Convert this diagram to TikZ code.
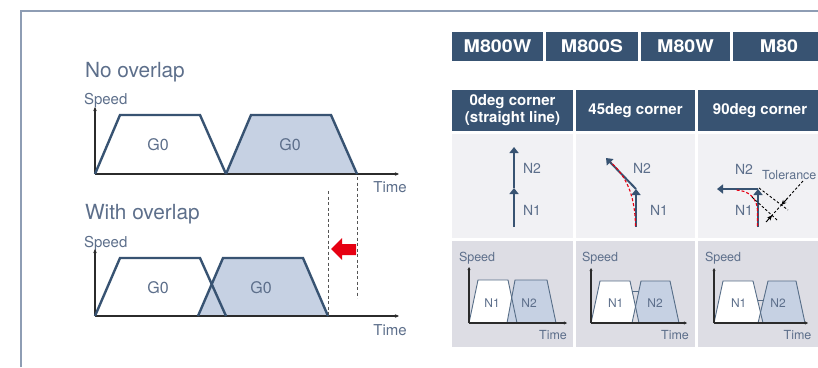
\documentclass[tikz,border=0pt]{standalone}
\usepackage{fontspec}
\setmainfont{TeX Gyre Heros}
\newfontfamily\hdrfont[FakeStretch=1.12]{TeX Gyre Heros}
\usetikzlibrary{arrows.meta}
\definecolor{navy}{HTML}{385372}
\definecolor{tcol}{HTML}{5D6F8B}
\definecolor{lblue}{HTML}{C6D1E3}
\definecolor{cellA}{HTML}{F1F1F4}
\definecolor{cellB}{HTML}{DDDDE4}
\definecolor{framec}{HTML}{8E9DB4}
\definecolor{redc}{HTML}{E60012}
\definecolor{axisc}{HTML}{2B2B2B}
\definecolor{dashc}{HTML}{555555}
\tikzset{
  txt/.style={text=tcol, inner sep=0pt, outer sep=0pt},
  big/.style={txt, font=\fontsize{20.8}{23}\selectfont},
  mid/.style={txt, font=\fontsize{15}{18}\selectfont},
  sml/.style={txt, font=\fontsize{12.5}{15}\selectfont},
  lbl/.style={txt, font=\fontsize{14}{16}\selectfont},
  hdrA/.style={text=white, inner sep=0pt, font=\hdrfont\bfseries\fontsize{17.5}{20}\selectfont},
  hdrB/.style={text=white, inner sep=0pt, align=center, font=\bfseries\fontsize{15}{17}\selectfont},
  axisline/.style={draw=axisc, line width=1.2pt, -{Stealth[length=4pt,width=3.5pt]}},
  saxis/.style={draw=axisc, line width=1.3pt, -{Stealth[length=3pt,width=3pt]}},
  trap/.style={draw=navy, line width=2.4pt, line join=miter},
  strap/.style={draw=navy!85!white, line width=0.9pt, line join=miter},
  vdash/.style={draw=dashc, line width=1pt, dash pattern=on 3pt off 2.5pt},
  narrow/.style={draw=navy, line width=2pt, -{Triangle[length=6pt,width=9pt]}},
  reddash/.style={draw=redc, line width=1.1pt, dash pattern=on 3pt off 2pt},
  toldash/.style={draw=black, line width=0.9pt, dash pattern=on 2.5pt off 2pt},
  tolarrow/.style={draw=black, line width=0.9pt, -{Stealth[length=5pt,width=4.5pt]}},
}
\begin{document}
\begin{tikzpicture}[x=1pt,y=-1pt]
\useasboundingbox (0,0) rectangle (818,367);
\fill[white] (0,0) rectangle (818,367);
% frame
\draw[framec, line width=1.2pt] (21,367) -- (21,11) -- (818,11);

% ---------- left: No overlap ----------
\node[big, anchor=base west] (t1) at (85,77.5) {No overlap};
\node[mid, anchor=base west] (sp1) at (84,104) {Speed};
\coordinate (o1) at (95,174);
\coordinate (y1) at (95,107);
\coordinate (x1) at (399,174);
\fill[lblue] (226,174) -- (251,115) -- (331,115) -- (357,174) -- cycle;
\draw[axisline] (o1) -- (y1);
\draw[axisline] (o1) -- (x1);
\draw[trap] (95,174) -- (120,115) -- (200,115) -- (226,174);
\draw[trap] (226,174) -- (251,115) -- (331,115) -- (357,174);
\node[txt, font=\fontsize{16}{18}\selectfont, anchor=base] (g1) at (158,150.7) {G0};
\node[txt, font=\fontsize{16}{18}\selectfont, anchor=base] (g2) at (290,150.7) {G0};
\node[mid, anchor=base] (tm1) at (390,192.5) {Time};

% ---------- left: With overlap ----------
\node[big, anchor=base west] (t2) at (85,219.5) {With overlap};
\node[mid, anchor=base west] (sp2) at (84,247) {Speed};
\coordinate (o2) at (95,316);
\coordinate (y2) at (95,249);
\coordinate (x2) at (399,316);
\fill[lblue] (198,316) -- (223,258) -- (303,258) -- (328,316) -- cycle;
\draw[axisline] (o2) -- (y2);
\draw[axisline] (o2) -- (x2);
\draw[trap] (95,316) -- (120,258) -- (200,258) -- (226,316);
\draw[trap] (198,316) -- (223,258) -- (303,258) -- (328,316);
\node[txt, font=\fontsize{16}{18}\selectfont, anchor=base] (g3) at (158,293.3) {G0};
\node[txt, font=\fontsize{16}{18}\selectfont, anchor=base] (g4) at (261,293.3) {G0};
\node[mid, anchor=base] (tm2) at (390,335) {Time};

% dashed guides and red arrow
\coordinate (d1a) at (357,177);
\coordinate (d1b) at (357,298);
\coordinate (d2a) at (328,191);
\coordinate (d2b) at (328,315);
\draw[vdash] (d1a) -- (d1b);
\draw[vdash] (d2a) -- (d2b);
\fill[redc] (331,249) -- (342,238) -- (342,244) -- (356,244) -- (356,255) -- (342,255) -- (342,260) -- cycle;

% ---------- right: header row 1 ----------
\fill[navy] (452,32) rectangle (543,61);
\fill[navy] (546,32) rectangle (638,61);
\fill[navy] (641,32) rectangle (730,61);
\fill[navy] (733,32) rectangle (826,61);
\node[hdrA] (m1) at (497.5,46.5) {M800W};
\node[hdrA] (m2) at (592,46.5) {M800S};
\node[hdrA] (m3) at (685.5,46.5) {M80W};
\node[hdrA] (m4) at (779,46.5) {M80};

% header row 2
\fill[navy] (452,90) rectangle (573,131);
\fill[navy] (576,90) rectangle (695,131);
\fill[navy] (698,90) rectangle (822,131);
\node[hdrB] (h1) at (512.5,110.5) {0deg corner\\(straight line)};
\node[hdrB] (h2) at (635.5,110.5) {45deg corner};
\node[hdrB] (h3) at (760,110.5) {90deg corner};

% row 3 backgrounds
\fill[cellA] (452,134) rectangle (573,238);
\fill[cellA] (576,134) rectangle (695,238);
\fill[cellA] (698,134) rectangle (822,238);
% row 4 backgrounds
\fill[cellB] (452,241) rectangle (573,347);
\fill[cellB] (576,241) rectangle (695,347);
\fill[cellB] (698,241) rectangle (822,347);

% ---------- row 3, cell 1 ----------
\coordinate (a1) at (514,227);
\coordinate (a2) at (514,188);
\coordinate (a3) at (514,147);
\draw[narrow] (a2) -- (a3);
\draw[narrow] (a1) -- (a2);
\node[lbl, anchor=west] (an2) at (523,168) {N2};
\node[lbl, anchor=west] (an1) at (523,210) {N1};

% ---------- row 3, cell 2 ----------
\coordinate (b1) at (636,227);
\coordinate (b2) at (636,189);
\coordinate (b3) at (606,158);
\draw[narrow] (b2) -- (b3);
\draw[narrow] (b1) -- (b2);
\draw[reddash] (635.5,226) .. controls (635,198) and (628,178) .. (611,162.5);
\node[lbl, anchor=west] (bn2) at (633,168) {N2};
\node[lbl, anchor=west] (bn1) at (650,210) {N1};

% ---------- row 3, cell 3 ----------
\coordinate (c1) at (758,227);
\coordinate (c2) at (758,189);
\coordinate (c3) at (717,189);
\draw[narrow] (c2) -- (c3);
\draw[narrow] (c1) -- (c2);
\draw[reddash] (757.5,226) -- (757.5,211) .. controls (757.5,199) and (749,190) .. (735,190);
\node[lbl, anchor=west] (cn2) at (735,169) {N2};
\node[lbl, anchor=west] (cn1) at (735,210) {N1};
\node[sml, anchor=base west] (tol) at (762,179.3) {Tolerance};
% tolerance dimension
\coordinate (la1) at (759,188);
\coordinate (la2) at (788,210);
\coordinate (lb1) at (752,197);
\coordinate (lb2) at (777,220);
\coordinate (dm1) at (803,181);
\coordinate (dm2) at (766,222);
\coordinate (ia) at (781.4,205);
\coordinate (ib) at (772,215.4);
\draw[toldash] (la1) -- (la2);
\draw[toldash] (lb1) -- (lb2);
\draw[toldash] (dm1) -- (dm2);
\draw[tolarrow] (787,198.8) -- (ia);
\draw[tolarrow] (766.4,221.6) -- (ib);

% ---------- row 4, cell 1 ----------
\node[sml, anchor=base west] (s1) at (459,261) {Speed};
\fill[lblue] (507,323) -- (515,280) -- (547,280) -- (556,323) -- cycle;
\fill[white] (469,323) -- (478,280) -- (508,280) -- (511.7,297.7) -- (507,323) -- cycle;
\draw[strap] (469,323) -- (478,280) -- (508,280) -- (517,323);
\draw[strap] (507,323) -- (515,280) -- (547,280) -- (556,323);
\coordinate (p1o) at (469,323);
\coordinate (p1y) at (469,267);
\coordinate (p1x) at (567,323);
\draw[saxis] (p1o) -- (p1y);
\draw[saxis] (p1o) -- (p1x);
\node[txt, font=\fontsize{12}{14}\selectfont] (p1n1) at (492,303.5) {N1};
\node[txt, font=\fontsize{12}{14}\selectfont] (p1n2) at (529,303.5) {N2};
\node[sml, anchor=base] (p1t) at (553,339) {Time};

% ---------- row 4, cell 2 ----------
\node[sml, anchor=base west] (s2) at (582,261) {Speed};
\fill[lblue] (641,281) -- (670,281) -- (679,323) -- (639,323) -- (635.5,306.7) -- (638.7,291.7) -- cycle;
\fill[white] (591,323) -- (600,281) -- (630,281) -- (632.3,291.7) -- (635.5,306.7) -- (632,323) -- cycle;
\draw[strap] (591,323) -- (600,281) -- (630,281) -- (639,323);
\draw[strap] (632,323) -- (641,281) -- (670,281) -- (679,323);
\draw[strap] (632.3,291.7) -- (638.7,291.7);
\coordinate (p2o) at (591,323);
\coordinate (p2y) at (591,268);
\coordinate (p2x) at (687,323);
\draw[saxis] (p2o) -- (p2y);
\draw[saxis] (p2o) -- (p2x);
\node[txt, font=\fontsize{12}{14}\selectfont] (p2n1) at (615.7,303.5) {N1};
\node[txt, font=\fontsize{12}{14}\selectfont] (p2n2) at (655,303.5) {N2};
\node[sml, anchor=base] (p2t) at (675,339) {Time};

% ---------- row 4, cell 3 ----------
\node[sml, anchor=base west] (s3) at (705,261) {Speed};
\fill[lblue] (768,281) -- (796,281) -- (805,323) -- (763,323) -- (760.5,312.5) -- (763.5,300) -- cycle;
\fill[white] (714,323) -- (723,281) -- (753,281) -- (757.5,300) -- (760.5,312.5) -- (758,323) -- cycle;
\draw[strap] (714,323) -- (723,281) -- (753,281) -- (763,323);
\draw[strap] (758,323) -- (768,281) -- (796,281) -- (805,323);
\draw[strap] (757.5,300) -- (763.5,300);
\coordinate (p3o) at (714,323);
\coordinate (p3y) at (714,268);
\coordinate (p3x) at (808,323);
\draw[saxis] (p3o) -- (p3y);
\draw[saxis] (p3o) -- (p3x);
\node[txt, font=\fontsize{12}{14}\selectfont] (p3n1) at (738.7,303.5) {N1};
\node[txt, font=\fontsize{12}{14}\selectfont] (p3n2) at (778,303.5) {N2};
\node[sml, anchor=base] (p3t) at (797.5,339) {Time};
\end{tikzpicture}
\end{document}
